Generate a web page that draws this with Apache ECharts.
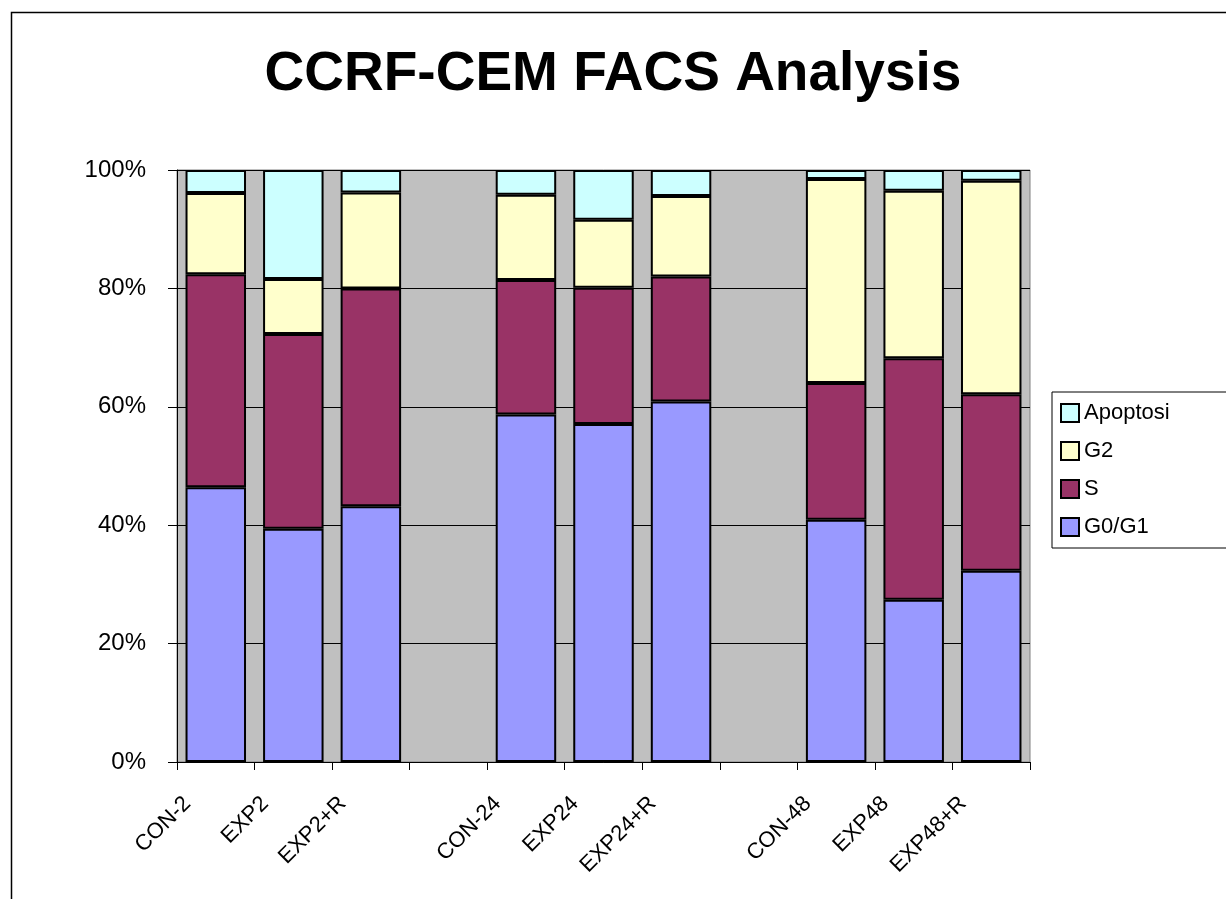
<!DOCTYPE html>
<html>
<head>
<meta charset="utf-8">
<script src="https://cdn.jsdelivr.net/npm/echarts@6/dist/echarts.min.js"></script>
<style>
html, body { margin: 0; padding: 0; background: #fff; overflow: hidden; }
#chart { width: 1226px; height: 899px; }
</style>
</head>
<body>
<div id="chart"></div>
<script>
// categories (blank entries are the gaps between groups)
var categories = ['CON-2', 'EXP2', 'EXP2+R', '', 'CON-24', 'EXP24', 'EXP24+R', '', 'CON-48', 'EXP48', 'EXP48+R'];
var g0g1 = [46.4, 39.4, 43.2, '-', 58.7, 57.1, 60.9, '-', 40.9, 27.4, 32.3];
var sPhase = [36.0, 32.9, 36.8, '-', 22.7, 23.0, 21.1, '-', 23.1, 40.8, 29.8];
var g2 = [13.7, 9.3, 16.2, '-', 14.4, 11.5, 13.6, '-', 34.5, 28.3, 36.1];
var apoptosi = [3.9, 18.4, 3.8, '-', 4.2, 8.4, 4.4, '-', 1.5, 3.5, 1.8];
var yTicks = [0, 20, 40, 60, 80, 100];

var fontFamily = '"Liberation Sans", Arial, sans-serif';

function barSeries(name, data, color) {
    return {
        name: name,
        type: 'bar',
        stack: 'total',
        data: data,
        barCategoryGap: '22%',
        itemStyle: {
            color: color,
            borderColor: '#000',
            borderWidth: 2
        },
        emphasis: { disabled: true }
    };
}

var myChart = echarts.init(document.getElementById('chart'));
var option = {
    animation: false,
    textStyle: { fontFamily: fontFamily },
    title: {
        text: 'CCRF-CEM FACS Analysis',
        left: 'center',
        top: 42,
        textStyle: {
            fontFamily: fontFamily,
            fontSize: 55,
            fontWeight: 'bold',
            color: '#000'
        }
    },
    graphic: [{
        type: 'rect',
        left: 9,
        top: 10,
        shape: { width: 1240, height: 910 },
        style: { fill: 'none', stroke: '#000', lineWidth: 1.5 },
        z: -1
    }],
    legend: {
        orient: 'vertical',
        left: 1052,
        top: 392,
        data: ['Apoptosi', 'G2', 'S', 'G0/G1'],
        icon: 'rect',
        itemWidth: 18,
        itemHeight: 18,
        itemGap: 16,
        padding: [10, 80, 10, 8],
        borderColor: '#000',
        borderWidth: 1,
        backgroundColor: '#fff',
        textStyle: { fontFamily: fontFamily, fontSize: 22, color: '#000' }
    },
    grid: {
        left: 177,
        right: 196,
        top: 170,
        bottom: 137,
        show: true,
        backgroundColor: '#c0c0c0',
        borderColor: '#808080',
        borderWidth: 1
    },
    xAxis: {
        type: 'category',
        data: categories,
        axisLine: { lineStyle: { color: '#000', width: 1 } },
        axisTick: { show: true, length: 8, lineStyle: { color: '#000' } },
        axisLabel: {
            interval: 0,
            rotate: 45,
            margin: 10,
            padding: [0, 40, 0, 0],
            fontSize: 22,
            color: '#000',
            fontFamily: fontFamily
        }
    },
    yAxis: {
        type: 'value',
        min: yTicks[0],
        max: yTicks[yTicks.length - 1],
        interval: yTicks[1] - yTicks[0],
        axisLine: { show: true, lineStyle: { color: '#000', width: 1 } },
        axisTick: { show: true, length: 9, lineStyle: { color: '#000' } },
        axisLabel: {
            formatter: '{value}%',
            margin: 31,
            fontSize: 24,
            color: '#000',
            fontFamily: fontFamily
        },
        splitLine: { show: true, lineStyle: { color: '#000', width: 1 } }
    },
    series: [
        barSeries('G0/G1', g0g1, '#9999ff'),
        barSeries('S', sPhase, '#993366'),
        barSeries('G2', g2, '#ffffcc'),
        barSeries('Apoptosi', apoptosi, '#ccffff')
    ]
};

myChart.setOption(option);

window.addEventListener('resize', function() {
    myChart.resize();
});
</script>
</body>
</html>
